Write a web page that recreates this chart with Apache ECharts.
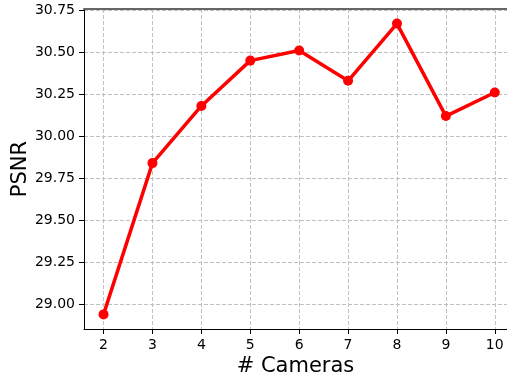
<!DOCTYPE html>
<html>
<head>
<meta charset="utf-8">
<script src="https://cdn.jsdelivr.net/npm/echarts@6/dist/echarts.min.js"></script>
<style>
html,body{margin:0;padding:0;background:#fff;}
#chart{width:507px;height:380px;}
</style>
</head>
<body>
<div id="chart"></div>
<script>
const cameras = [2, 3, 4, 5, 6, 7, 8, 9, 10];
const psnr = [28.94, 29.84, 30.18, 30.45, 30.51, 30.33, 30.67, 30.12, 30.26];
const yTicks = [29.00, 29.25, 29.50, 29.75, 30.00, 30.25, 30.50, 30.75];
const xTicks = [2, 3, 4, 5, 6, 7, 8, 9, 10];

const font = 'DejaVu Sans';
const chart = echarts.init(document.getElementById('chart'), null, {renderer: 'canvas'});
chart.setOption({
  animation: false,
  backgroundColor: '#ffffff',
  grid: {left: 84, right: 0, top: 9, bottom: 51, containLabel: false, outerBoundsMode: 'none'},
  xAxis: [{
    type: 'value',
    min: 1.6,
    max: 10.25,
    name: '# Cameras',
    nameLocation: 'middle',
    nameGap: 27,
    nameMoveOverlap: false,
    nameTextStyle: {fontFamily: font, fontSize: 21, color: '#000'},
    axisLine: {show: true, onZero: false, lineStyle: {color: '#000', width: 1}},
    axisTick: {show: true, length: 5, lineStyle: {color: '#000'}, customValues: xTicks},
    axisLabel: {fontFamily: font, fontSize: 14, color: '#000', margin: 9, customValues: xTicks,
      formatter: v => String(v)},
    splitLine: {show: true, customValues: xTicks, lineStyle: {color: '#c0c0c0', type: [4, 2], width: 1}}
  }, {
    type: 'value', position: 'top', min: 1.6, max: 10.25,
    axisLine: {show: true, onZero: false, lineStyle: {color: '#666', width: 2}},
    axisTick: {show: false}, axisLabel: {show: false}, splitLine: {show: false}
  }],
  yAxis: {
    type: 'value',
    min: 28.853,
    max: 30.757,
    name: 'PSNR',
    nameLocation: 'middle',
    nameGap: 53,
    nameRotate: 90,
    nameMoveOverlap: false,
    nameTextStyle: {fontFamily: font, fontSize: 21, color: '#000'},
    axisLine: {show: true, onZero: false, lineStyle: {color: '#000', width: 1}},
    axisTick: {show: true, length: 5, lineStyle: {color: '#000'}, customValues: yTicks},
    axisLabel: {fontFamily: font, fontSize: 14, color: '#000', margin: 9, customValues: yTicks,
      formatter: v => v.toFixed(2)},
    splitLine: {show: true, customValues: yTicks, lineStyle: {color: '#c0c0c0', type: [4, 2], width: 1}}
  },
  series: [{
    type: 'line',
    data: cameras.map((c, i) => [c, psnr[i]]),
    lineStyle: {color: '#ff0000', width: 3.5},
    itemStyle: {color: '#ff0000'},
    symbol: 'circle',
    symbolSize: 10,
    showSymbol: true
  }]
});
</script>
</body>
</html>
